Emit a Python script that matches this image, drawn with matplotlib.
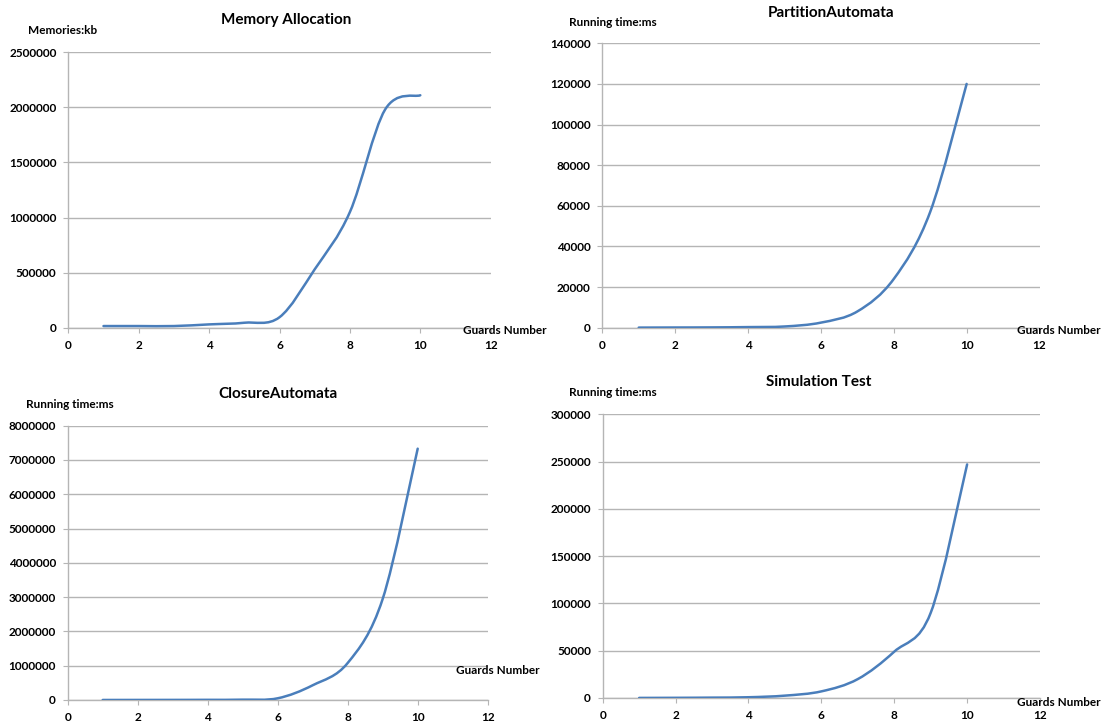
#!/usr/bin/env python3

import matplotlib
matplotlib.use('Agg')
import matplotlib.pyplot as plt
from matplotlib.path import Path
from matplotlib.patches import PathPatch
from matplotlib.ticker import FuncFormatter

# guards number on the x axis
guards = [1, 2, 3, 4, 5, 6, 7, 8, 9, 10]

# memory allocation in kb
memory_kb = [15000, 15000, 15000, 30000, 45000, 95000, 530000, 1050000,
             1980000, 2110000]

# running times in ms
partition_ms = [50, 100, 150, 300, 600, 2500, 8000, 24000, 57000, 120000]
closure_ms = [1000, 2000, 3000, 5000, 10000, 50000, 430000, 1080000,
              2950000, 7330000]
simulation_ms = [100, 200, 400, 800, 2500, 7000, 20000, 49000, 90000,
                 247000]

W, H = 1109, 724
LINE_COLOR = '#4A7EBB'
GRID_COLOR = '#B5B5B5'
FONT = 'Lato'


def px(x, y):
    # pixel position -> figure fraction
    return x / W, 1 - y / H


def smooth_path(xs, ys):
    """
    Excel style smoothed line: cubic bezier segments with
    catmull-rom control points, in data coordinates
    """
    pts = list(zip(xs, ys))
    n = len(pts)
    verts = [pts[0]]
    codes = [Path.MOVETO]
    for i in range(n - 1):
        p0 = pts[max(i - 1, 0)]
        p1 = pts[i]
        p2 = pts[i + 1]
        p3 = pts[min(i + 2, n - 1)]
        c1 = (p1[0] + (p2[0] - p0[0]) / 6.0, p1[1] + (p2[1] - p0[1]) / 6.0)
        c2 = (p2[0] - (p3[0] - p1[0]) / 6.0, p2[1] - (p3[1] - p1[1]) / 6.0)
        verts += [c1, c2, p2]
        codes += [Path.CURVE4] * 3
    return Path(verts, codes)


def make_panel(fig, rect, ys, ymax, ystep):
    left, top, right, bottom = rect
    ax = fig.add_axes([left / W, 1 - bottom / H,
                       (right - left) / W, (bottom - top) / H])

    patch = PathPatch(smooth_path(guards, ys), facecolor='none',
                      edgecolor=LINE_COLOR, lw=1.8, capstyle='round',
                      joinstyle='round', transform=ax.transData, zorder=3)
    ax.add_patch(patch)

    ax.set_xlim(0, 12)
    ax.set_ylim(0, ymax)
    ax.set_xticks(range(0, 13, 2))
    ax.set_yticks(range(0, ymax + 1, ystep))
    ax.yaxis.set_major_formatter(FuncFormatter(lambda v, p: '%d' % v))

    # horizontal gridlines only
    ax.grid(axis='y', color=GRID_COLOR, lw=1.0)
    ax.set_axisbelow(True)
    for s in ['top', 'right']:
        ax.spines[s].set_visible(False)
    for s in ['left', 'bottom']:
        ax.spines[s].set_color(GRID_COLOR)
        ax.spines[s].set_linewidth(1.0)

    ax.tick_params(axis='both', direction='out', length=3.5,
                   color=GRID_COLOR, labelsize=8.5)
    ax.tick_params(axis='y', pad=5)
    ax.tick_params(axis='x', pad=5)
    for lab in ax.get_xticklabels() + ax.get_yticklabels():
        lab.set_fontweight('bold')
        lab.set_family(FONT)
    return ax


def label(fig, x, y, text, size=8.5):
    fig.text(*px(x, y), text, ha='center', va='center', fontsize=size,
             fontweight='bold', family=FONT)


fig = plt.figure(figsize=(W / 100, H / 100), dpi=100)

make_panel(fig, (68.3, 52.3, 490.7, 327.7), memory_kb, 2500000, 500000)
make_panel(fig, (602.3, 43.3, 1039.5, 327.7), partition_ms, 140000, 20000)
make_panel(fig, (67.7, 425.7, 487.7, 700), closure_ms, 8000000, 1000000)
make_panel(fig, (602.7, 414.3, 1040, 698), simulation_ms, 300000, 50000)

# titles
label(fig, 286, 20, 'Memory Allocation', 11)
label(fig, 831, 13, 'PartitionAutomata', 11)
label(fig, 278, 394, 'ClosureAutomata', 11)
label(fig, 819, 382, 'Simulation Test', 11)

# axis captions
label(fig, 63, 31, 'Memories:kb')
label(fig, 613, 22, 'Running time:ms')
label(fig, 70, 405, 'Running time:ms')
label(fig, 613, 393, 'Running time:ms')
label(fig, 505, 331, 'Guards Number')
label(fig, 1059, 331, 'Guards Number')
label(fig, 498, 671, 'Guards Number')
label(fig, 1059, 702, 'Guards Number')

plt.savefig('out.png', dpi=100)
